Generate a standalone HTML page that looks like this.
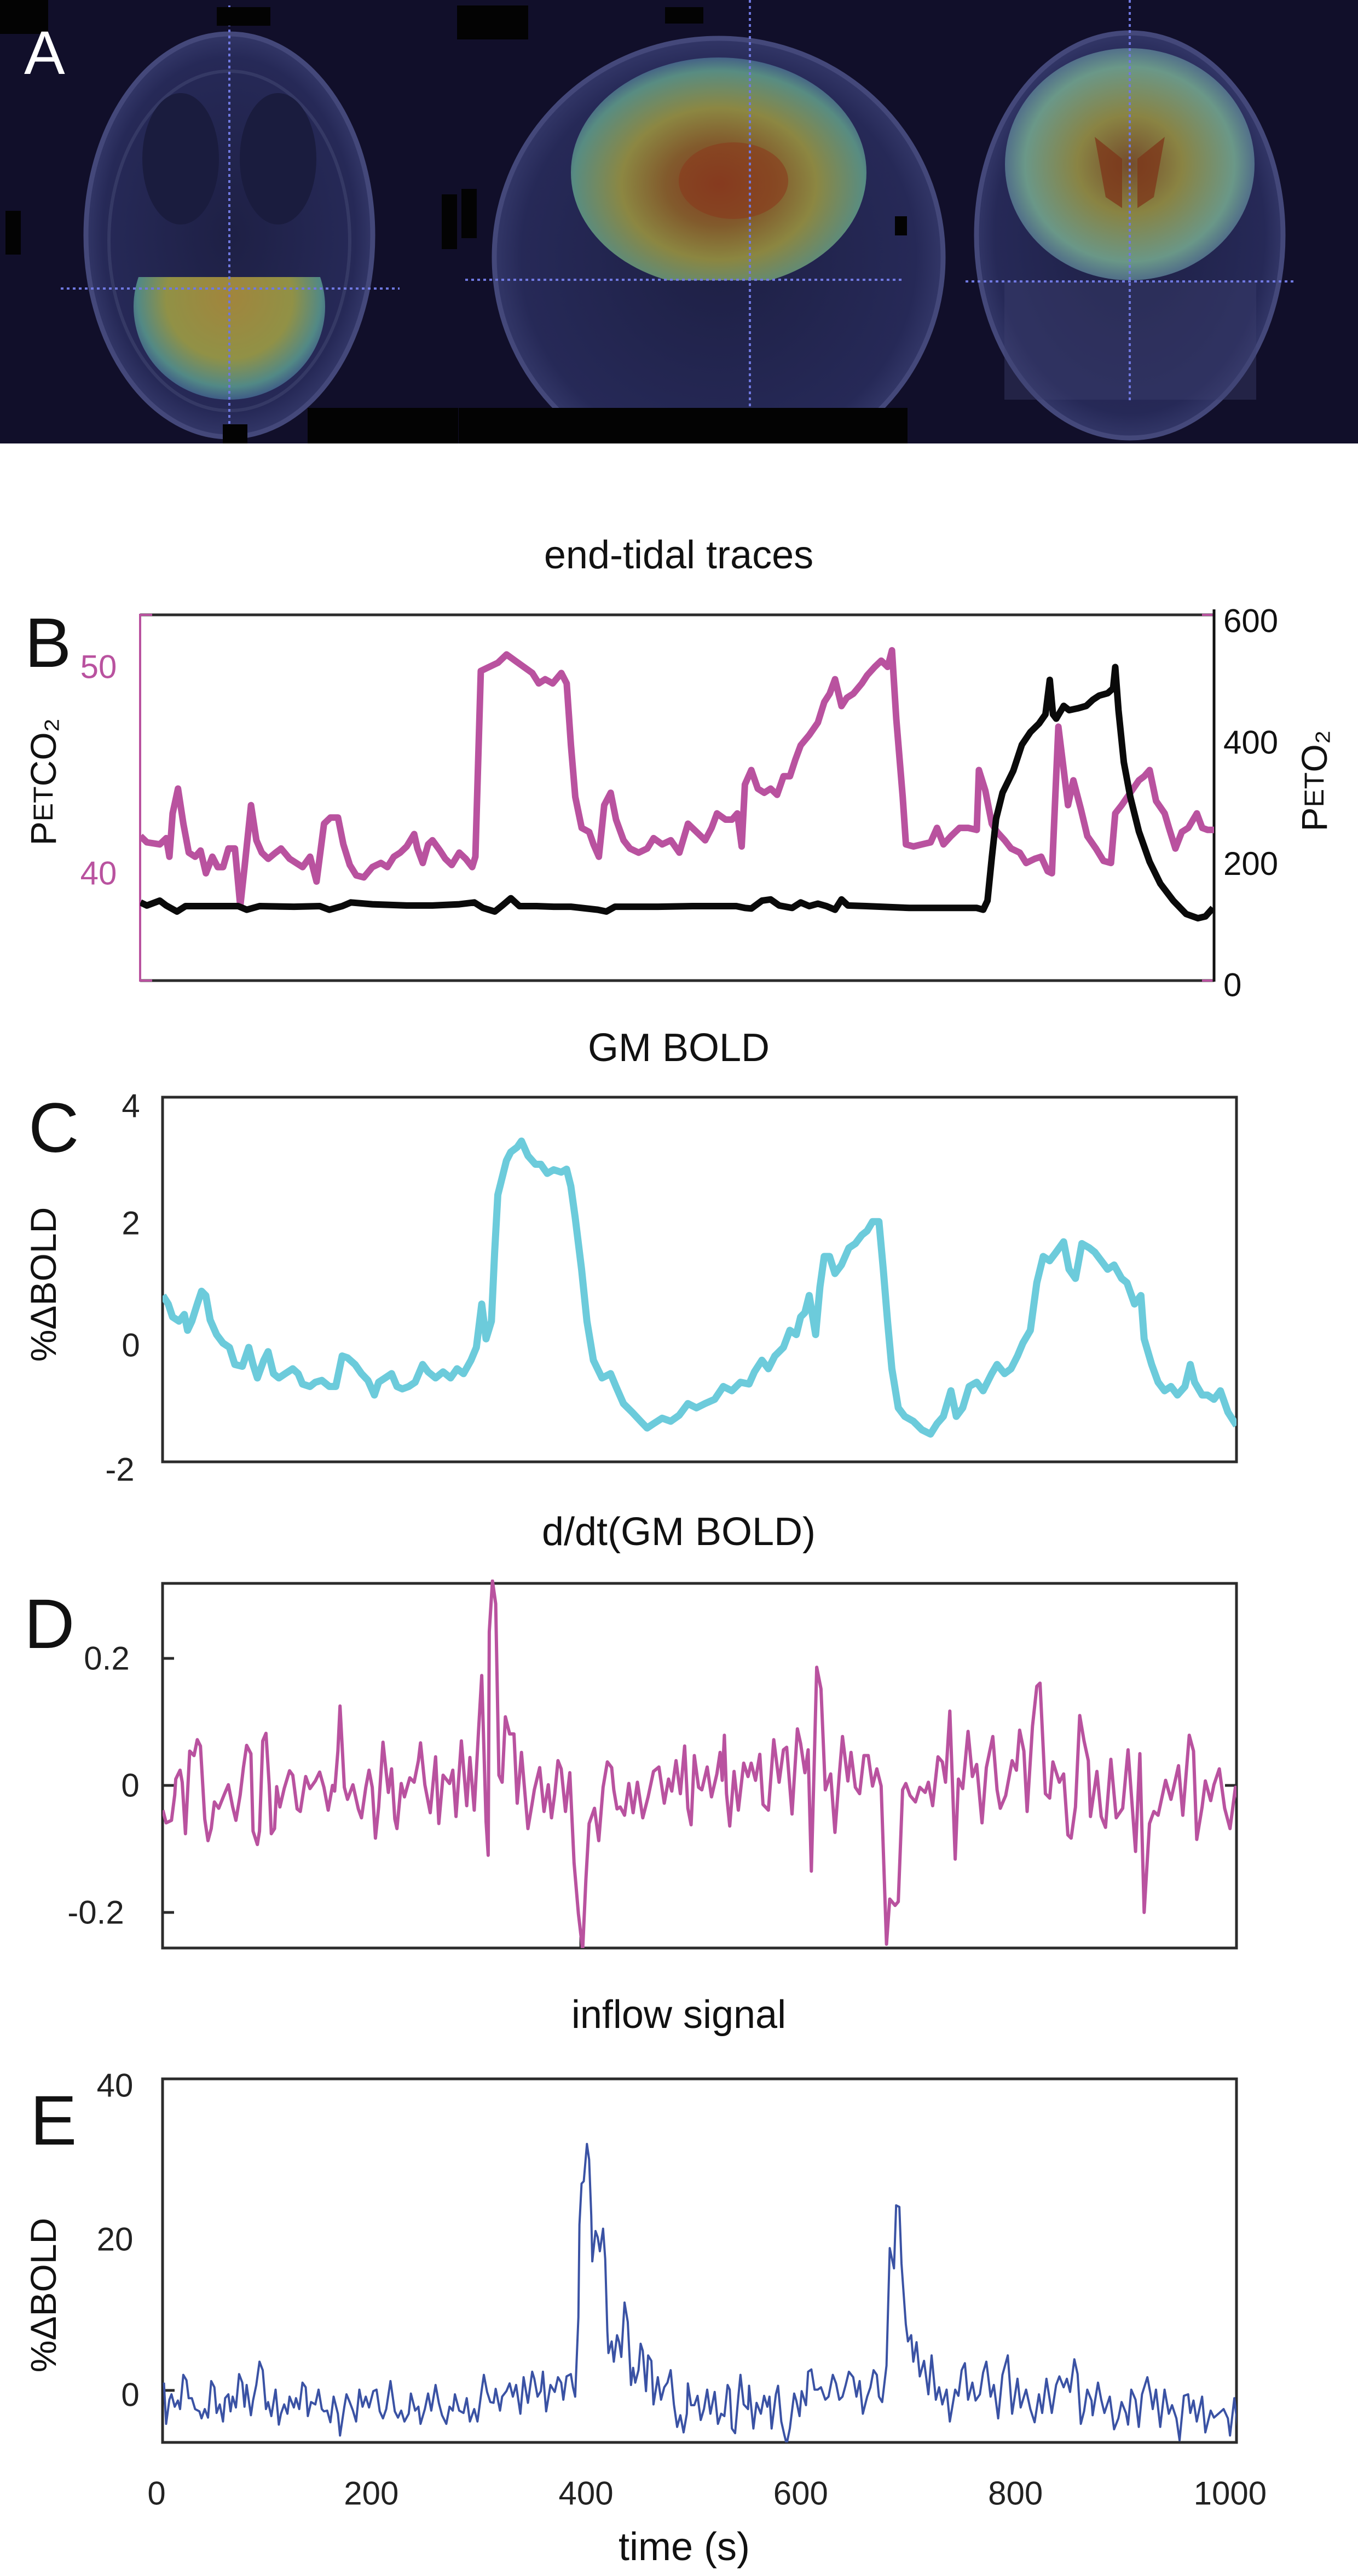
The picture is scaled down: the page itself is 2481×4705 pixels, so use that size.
<!DOCTYPE html>
<html><head><meta charset="utf-8">
<style>
html,body{margin:0;padding:0;background:#fff;}
svg{display:block;}
text{font-family:"Liberation Sans",sans-serif;}
</style></head>
<body>
<svg id="fig" xmlns="http://www.w3.org/2000/svg" width="2481" height="4705" viewBox="0 0 2481 4705">
<defs>
 <radialGradient id="gYel" cx="50%" cy="45%" r="60%">
  <stop offset="0" stop-color="#b8963a"/><stop offset="0.55" stop-color="#a4a444"/><stop offset="0.8" stop-color="#5a9a8e"/><stop offset="1" stop-color="#34408e"/>
 </radialGradient>
 <radialGradient id="gSag" cx="50%" cy="55%" r="60%">
  <stop offset="0" stop-color="#8e3e1e"/><stop offset="0.3" stop-color="#8f6228"/><stop offset="0.55" stop-color="#9a9440"/><stop offset="0.82" stop-color="#5f9a88"/><stop offset="1" stop-color="#343f90"/>
 </radialGradient>
 <radialGradient id="gCor" cx="50%" cy="50%" r="60%">
  <stop offset="0" stop-color="#7e5028"/><stop offset="0.35" stop-color="#958e42"/><stop offset="0.7" stop-color="#72a48e"/><stop offset="1" stop-color="#343f90"/>
 </radialGradient>
 <radialGradient id="gHead" cx="50%" cy="50%" r="55%">
  <stop offset="0" stop-color="#1e2045"/><stop offset="0.8" stop-color="#262957"/><stop offset="1" stop-color="#3d4275"/>
 </radialGradient>
 <clipPath id="clipB"><rect x="256" y="1123" width="1962" height="668"/></clipPath>
 <clipPath id="clipC"><rect x="297" y="2004" width="1962" height="666"/></clipPath>
 <clipPath id="clipD"><rect x="297" y="2885" width="1962" height="673"/></clipPath>
 <clipPath id="clipE"><rect x="297" y="3797" width="1962" height="664"/></clipPath>
 <clipPath id="cutAx"><rect x="0" y="506" width="900" height="300"/></clipPath>
 <clipPath id="cutSag"><rect x="840" y="0" width="900" height="512"/></clipPath>
 <clipPath id="cutCor"><rect x="1700" y="0" width="700" height="514"/></clipPath>
 <clipPath id="clipA"><rect x="0" y="0" width="2481" height="810"/></clipPath>
</defs>

<!-- Panel A: MRI images -->
<g clip-path="url(#clipA)">
 <rect x="0" y="0" width="2481" height="810" fill="#110f2a"/>
 <g>
  <ellipse cx="419" cy="430" rx="262" ry="368" fill="url(#gHead)" stroke="#44487a" stroke-width="9"/>
  <ellipse cx="419" cy="440" rx="220" ry="310" fill="none" stroke="#353965" stroke-width="6"/>
  <ellipse cx="330" cy="290" rx="70" ry="120" fill="#1a1c3e"/>
  <ellipse cx="508" cy="290" rx="70" ry="120" fill="#1a1c3e"/>
  <g clip-path="url(#cutAx)"><ellipse cx="419" cy="560" rx="175" ry="170" fill="url(#gYel)" opacity="0.85"/></g>
  <line x1="111" y1="527" x2="730" y2="527" stroke="#6f78e0" stroke-width="4" stroke-dasharray="5,6"/>
  <line x1="419" y1="10" x2="419" y2="810" stroke="#6f78e0" stroke-width="4" stroke-dasharray="5,6"/>
 </g>
 <g>
  <ellipse cx="1313" cy="470" rx="410" ry="400" fill="url(#gHead)" stroke="#44487a" stroke-width="9"/>
  <g clip-path="url(#cutSag)"><ellipse cx="1313" cy="315" rx="270" ry="210" fill="url(#gSag)" opacity="0.88"/></g>
  <ellipse cx="1340" cy="330" rx="100" ry="70" fill="#8a3a1c" opacity="0.6"/>
  <line x1="850" y1="511" x2="1653" y2="511" stroke="#6f78e0" stroke-width="4" stroke-dasharray="5,6"/>
  <line x1="1370" y1="0" x2="1370" y2="745" stroke="#6f78e0" stroke-width="4" stroke-dasharray="5,6"/>
 </g>
 <g>
  <ellipse cx="2064" cy="430" rx="280" ry="370" fill="url(#gHead)" stroke="#44487a" stroke-width="9"/>
  <g clip-path="url(#cutCor)"><ellipse cx="2064" cy="300" rx="228" ry="212" fill="url(#gCor)" opacity="0.9"/></g>
  <path d="M2000 250 L2050 290 L2050 380 L2020 360 Z M2128 250 L2078 290 L2078 380 L2108 360 Z" fill="#7e361a" opacity="0.75"/>
  <rect x="1835" y="514" width="460" height="216" fill="#3e4270" opacity="0.4"/>
  <line x1="1764" y1="514" x2="2368" y2="514" stroke="#6f78e0" stroke-width="4" stroke-dasharray="5,6"/>
  <line x1="2064" y1="0" x2="2064" y2="735" stroke="#6f78e0" stroke-width="4" stroke-dasharray="5,6"/>
 </g>
 <g fill="#030303">
  <rect x="0" y="0" width="88" height="62"/><rect x="396" y="13" width="98" height="34"/>
  <rect x="835" y="10" width="130" height="62"/><rect x="1215" y="13" width="70" height="30"/>
  <rect x="10" y="385" width="28" height="80"/><rect x="807" y="355" width="28" height="100"/><rect x="843" y="345" width="28" height="90"/><rect x="1635" y="395" width="22" height="35"/>
  <rect x="407" y="775" width="45" height="35"/><rect x="562" y="745" width="275" height="65"/><rect x="838" y="745" width="820" height="65"/>
 </g>
 <text x="44" y="135" font-size="112" fill="#ffffff">A</text>
</g>

<!-- Titles and labels -->
<g fill="#111">
 <text x="1240" y="1014" font-size="72" text-anchor="middle" dominant-baseline="central">end-tidal traces</text>
 <text x="1240" y="1914" font-size="72" text-anchor="middle" dominant-baseline="central">GM BOLD</text>
 <text x="1240" y="2798" font-size="72" text-anchor="middle" dominant-baseline="central">d/dt(GM BOLD)</text>
 <text x="1240" y="3680" font-size="72" text-anchor="middle" dominant-baseline="central">inflow signal</text>
 <text x="1250" y="4652" font-size="72" text-anchor="middle" dominant-baseline="central">time (s)</text>
 <text x="45" y="1218" font-size="128">B</text>
 <text x="52" y="2104" font-size="128">C</text>
 <text x="44" y="3010" font-size="128">D</text>
 <text x="55" y="3917" font-size="128">E</text>
 <text transform="translate(79,1428) rotate(-90)" font-size="66" text-anchor="middle" dominant-baseline="central">P<tspan font-size="50">ET</tspan>CO₂</text>
 <text transform="translate(2401,1426) rotate(-90)" font-size="66" text-anchor="middle" dominant-baseline="central">P<tspan font-size="50">ET</tspan>O₂</text>
 <text transform="translate(79,2346) rotate(-90)" font-size="66" text-anchor="middle" dominant-baseline="central">%ΔBOLD</text>
 <text transform="translate(79,4192) rotate(-90)" font-size="66" text-anchor="middle" dominant-baseline="central">%ΔBOLD</text>
</g>
<g id="plots"></g>
</svg>
<script>
// ---- data ----
const timeTicks = [0, 200, 400, 600, 800, 1000];
const co2Ticks = [40, 50];
const o2Ticks = [0, 200, 400, 600];
const bTicks = [-2, 0, 2, 4];
const dTicks = [-0.2, 0, 0.2];
const dTickLabels = ["-0.2", "0", "0.2"];
const eTicks = [0, 20, 40];
const co2Series = [[11,41.8],[17,41.5],[29,41.4],[35,41.7],[38,40.8],[41,42.9],[46,44.1],[51,42.4],[56,41.0],[62,40.8],[67,41.1],[72,40.0],[78,40.8],[83,40.3],[88,40.3],[93,41.2],[99,41.2],[104,38.4],[108,40.3],[114,43.3],[119,41.6],[124,41.0],[130,40.7],[137,41.0],[142,41.2],[150,40.7],[162,40.3],[169,40.8],[175,39.6],[182,42.4],[188,42.7],[195,42.7],[200,41.4],[206,40.4],[212,39.9],[219,39.8],[227,40.3],[235,40.5],[241,40.3],[247,40.8],[253,41.0],[259,41.3],[266,41.9],[269,41.2],[274,40.5],[279,41.4],[283,41.6],[290,41.1],[295,40.7],[301,40.4],[308,41.0],[314,40.7],[320,40.3],[323,40.8],[328,49.8],[336,50.0],[344,50.2],[352,50.6],[360,50.3],[368,50.0],[376,49.7],[382,49.2],[388,49.4],[395,49.2],[403,49.7],[408,49.2],[412,46.2],[416,43.7],[422,42.2],[429,42.0],[433,41.4],[438,40.8],[443,43.3],[449,43.9],[454,42.6],[461,41.6],[467,41.2],[475,41.0],[483,41.2],[489,41.7],[497,41.4],[505,41.6],[513,41.0],[521,42.4],[529,42.0],[537,41.6],[543,42.2],[548,42.9],[556,42.6],[562,42.6],[567,42.9],[571,41.3],[574,44.3],[580,45.0],[586,44.1],[592,43.9],[598,44.1],[604,43.8],[610,44.7],[616,44.7],[621,45.5],[626,46.2],[634,46.7],[642,47.3],[648,48.3],[653,48.7],[658,49.4],[664,48.1],[669,48.5],[675,48.7],[683,49.2],[688,49.6],[695,50.0],[701,50.3],[707,50.0],[711,50.8],[715,47.5],[721,43.7],[724,41.4],[731,41.3],[739,41.4],[747,41.5],[753,42.2],[759,41.4],[766,41.8],[774,42.2],[782,42.2],[790,42.1],[792,45.0],[798,44.0],[804,42.4],[809,42.0],[816,41.6],[822,41.2],[830,41.0],[836,40.5],[844,40.7],[850,40.8],[856,40.1],[860,40.0],[866,47.1],[871,45.0],[875,43.3],[880,44.5],[887,43.1],[893,41.8],[901,41.2],[908,40.6],[915,40.5],[919,42.9],[925,43.3],[933,43.9],[941,44.5],[946,44.7],[951,45.0],[957,43.5],[965,42.9],[969,42.2],[975,41.2],[981,42.0],[987,42.2],[995,42.9],[1000,42.2],[1005,42.1],[1011,42.1]];
const o2Series = [[11,136],[17,131],[29,139],[35,131],[45,121],[53,130],[70,130],[102,130],[110,124],[122,130],[154,129],[178,130],[187,124],[199,130],[207,136],[227,133],[259,131],[283,131],[308,133],[322,136],[330,127],[341,121],[348,131],[356,143],[364,130],[380,130],[396,129],[412,129],[437,124],[445,121],[453,129],[493,129],[525,130],[566,130],[574,127],[580,126],[590,139],[598,141],[606,131],[618,127],[626,136],[634,130],[642,134],[650,130],[658,124],[664,141],[670,131],[687,130],[727,127],[767,127],[790,127],[796,124],[800,139],[804,210],[808,274],[814,317],[824,353],[832,396],[840,417],[848,431],[854,446],[858,503],[861,446],[864,439],[871,460],[876,453],[884,456],[892,460],[898,470],[904,477],[912,481],[917,489],[919,524],[922,453],[927,367],[933,310],[941,253],[951,203],[961,167],[973,139],[985,117],[996,110],[1003,113],[1010,127]];
const gmBoldSeries = [[11,0.85],[16,0.71],[20,0.50],[26,0.43],[31,0.54],[34,0.28],[38,0.43],[43,0.71],[47,0.92],[51,0.85],[55,0.45],[61,0.21],[67,0.07],[73,0],[78,-0.28],[85,-0.31],[91,0],[95,-0.28],[99,-0.50],[105,-0.21],[109,-0.07],[114,-0.43],[119,-0.50],[125,-0.43],[132,-0.35],[137,-0.43],[141,-0.60],[148,-0.64],[153,-0.57],[159,-0.54],[166,-0.64],[172,-0.64],[178,-0.14],[183,-0.17],[190,-0.28],[196,-0.43],[202,-0.54],[208,-0.78],[212,-0.57],[218,-0.50],[224,-0.43],[229,-0.64],[234,-0.68],[240,-0.64],[246,-0.57],[253,-0.28],[258,-0.40],[265,-0.50],[272,-0.40],[279,-0.50],[285,-0.35],[291,-0.43],[298,-0.21],[303,0],[308,0.71],[312,0.14],[317,0.43],[320,1.56],[323,2.50],[331,3.06],[335,3.20],[341,3.28],[345,3.38],[351,3.14],[358,3.00],[363,3.00],[369,2.85],[375,2.91],[382,2.87],[387,2.92],[391,2.64],[395,2.13],[401,1.28],[406,0.43],[412,-0.21],[420,-0.50],[428,-0.43],[433,-0.64],[440,-0.92],[448,-1.06],[456,-1.21],[462,-1.32],[468,-1.25],[476,-1.16],[484,-1.21],[492,-1.11],[500,-0.92],[508,-0.99],[516,-0.92],[525,-0.85],[533,-0.64],[541,-0.71],[549,-0.57],[557,-0.60],[562,-0.40],[569,-0.21],[575,-0.35],[581,-0.14],[589,0],[595,0.28],[601,0.21],[605,0.50],[609,0.57],[613,0.85],[619,0.21],[623,0.99],[627,1.49],[632,1.49],[637,1.21],[643,1.35],[650,1.63],[656,1.70],[662,1.84],[667,1.91],[672,2.06],[678,2.06],[682,1.28],[686,0.43],[690,-0.35],[696,-0.99],[702,-1.13],[710,-1.21],[718,-1.35],[726,-1.42],[732,-1.25],[738,-1.13],[745,-0.71],[750,-1.13],[756,-0.99],[762,-0.64],[769,-0.57],[775,-0.71],[783,-0.43],[788,-0.28],[795,-0.43],[801,-0.35],[807,-0.14],[812,0.07],[819,0.28],[825,1.06],[831,1.49],[837,1.42],[843,1.56],[850,1.73],[855,1.28],[861,1.13],[867,1.70],[874,1.63],[879,1.56],[885,1.42],[891,1.28],[897,1.35],[904,1.13],[909,1.06],[916,0.71],[922,0.85],[925,0.14],[932,-0.28],[938,-0.57],[944,-0.71],[950,-0.64],[956,-0.78],[963,-0.64],[968,-0.28],[972,-0.57],[979,-0.78],[984,-0.78],[990,-0.85],[996,-0.71],[1003,-1.06],[1011,-1.28]];
const dBoldSeries = [[11,-0.039],[14,-0.059],[19,-0.055],[22,-0.015],[23,0.010],[27,0.024],[29,0.005],[32,-0.076],[36,0.054],[40,0.047],[43,0.072],[46,0.062],[50,-0.053],[53,-0.087],[56,-0.068],[59,-0.026],[63,-0.036],[68,-0.015],[72,0.001],[76,-0.034],[79,-0.055],[83,-0.015],[86,0.028],[89,0.063],[93,0.050],[95,-0.072],[99,-0.093],[101,-0.072],[104,0.070],[107,0.082],[110,0.001],[112,-0.076],[115,-0.068],[117,-0.002],[120,-0.034],[124,-0.005],[129,0.023],[132,0.016],[136,-0.037],[139,-0.041],[144,0.014],[148,-0.005],[153,0.007],[157,0.021],[161,-0.003],[165,-0.039],[169,0],[171,-0.009],[174,0.054],[176,0.125],[180,-0.003],[183,-0.022],[188,0.001],[193,-0.037],[196,-0.051],[200,-0.003],[203,0.024],[206,-0.003],[209,-0.083],[212,-0.034],[216,0.068],[219,0.020],[221,-0.011],[224,0.026],[227,-0.053],[229,-0.068],[233,0.003],[236,-0.018],[241,0.012],[245,0.005],[249,0.039],[251,0.067],[255,0.001],[260,-0.043],[265,0.045],[268,-0.060],[272,0.016],[278,0.003],[281,0.024],[284,-0.049],[289,0.070],[294,-0.032],[297,0.044],[301,-0.039],[305,0.085],[308,0.173],[312,-0.057],[314,-0.110],[315,0.242],[318,0.322],[321,0.286],[324,0.016],[327,0.005],[330,0.108],[334,0.081],[338,0.081],[341,-0.028],[345,0.052],[351,-0.068],[355,-0.028],[357,-0.007],[362,0.028],[366,-0.041],[370,0.001],[373,-0.051],[376,-0.013],[379,0.039],[382,0.026],[386,-0.041],[390,0.020],[394,-0.122],[398,-0.202],[402,-0.259],[405,-0.148],[408,-0.060],[413,-0.036],[417,-0.087],[421,-0.003],[425,0.037],[429,0.028],[431,-0.007],[434,-0.037],[437,-0.034],[441,-0.047],[445,0.003],[449,-0.043],[453,0.005],[458,-0.051],[463,-0.018],[468,0.022],[473,0.029],[478,-0.028],[482,0.010],[485,-0.009],[489,0.039],[493,-0.013],[497,0.062],[500,-0.036],[503,-0.062],[506,0.047],[510,-0.003],[513,-0.007],[518,0.029],[522,-0.018],[527,0.018],[530,0.052],[532,0.008],[534,0.079],[536,-0.013],[539,-0.064],[543,0.022],[547,-0.039],[552,0.035],[556,0.014],[559,0.035],[563,0.008],[567,0.049],[570,-0.030],[575,-0.039],[580,0.072],[585,0.005],[589,0.056],[592,0.060],[597,-0.045],[602,0.089],[605,0.066],[609,0.020],[612,0.056],[615,-0.135],[620,0.186],[624,0.152],[628,-0.007],[633,0.018],[637,-0.074],[641,0.016],[644,0.077],[649,0.007],[652,0.052],[656,-0.003],[660,-0.013],[664,0.047],[668,0.047],[672,-0.001],[676,0.026],[680,-0.001],[685,-0.250],[688,-0.179],[693,-0.189],[696,-0.183],[700,-0.007],[703,0.003],[707,-0.016],[712,-0.026],[716,-0.003],[721,-0.011],[724,0.005],[728,-0.032],[733,0.045],[737,0.037],[740,0.005],[744,0.117],[749,-0.116],[752,0.010],[756,-0.005],[761,0.085],[765,0.014],[769,0.033],[774,-0.059],[778,0.028],[784,0.077],[788,-0.007],[791,-0.036],[796,-0.016],[802,0.039],[806,0.024],[809,0.087],[813,0.054],[816,-0.041],[821,0.093],[825,0.156],[828,0.161],[833,-0.013],[837,-0.020],[840,0.037],[846,0.005],[850,0.018],[854,-0.078],[857,-0.083],[861,-0.034],[865,0.110],[869,0.070],[873,0.039],[875,-0.049],[881,0.022],[885,-0.049],[889,-0.066],[894,0.041],[899,-0.051],[905,-0.036],[910,0.056],[917,-0.104],[921,0.050],[925,-0.200],[930,-0.060],[934,-0.041],[938,-0.047],[945,0.008],[950,-0.022],[957,0.031],[961,-0.047],[967,0.079],[971,0.054],[974,-0.085],[979,-0.034],[982,0.007],[987,-0.024],[990,0.001],[995,0.026],[1000,-0.036],[1005,-0.068],[1010,-0.003],[1013,-0.024]];
const inflowSeries = [[12,1.0],[14,-4.3],[17,-1.2],[19,-0.5],[22,-2.1],[25,-1.3],[27,-2.4],[30,2.0],[33,1.3],[35,-1.0],[38,-1.0],[41,-2.4],[45,-2.7],[47,-3.6],[50,-2.4],[53,-3.5],[56,1.2],[59,0.4],[61,-2.9],[64,-1.8],[67,-4.0],[69,-1.0],[72,-0.5],[74,-2.7],[76,-0.8],[79,-2.2],[82,2.1],[85,1.0],[87,-2.1],[89,0.7],[93,-3.2],[95,-1.3],[98,0.7],[101,3.7],[104,2.6],[107,-2.4],[109,-1.5],[112,-3.3],[116,0.1],[119,-4.4],[121,-3.0],[124,-1.8],[127,-3.0],[129,-0.8],[133,-2.2],[135,-1.0],[138,-2.4],[141,1.0],[144,0.4],[146,-3.3],[149,-1.5],[153,-1.8],[156,0.1],[159,-2.4],[161,-2.7],[164,-2.6],[167,-4.1],[170,-0.8],[174,-3.0],[176,-5.8],[180,-2.1],[182,-0.5],[185,-1.5],[188,-2.6],[191,-4.0],[194,0.1],[197,-2.1],[200,-0.8],[203,-2.2],[207,-0.1],[210,0.1],[213,-2.7],[216,-3.6],[219,-2.4],[223,1.2],[227,-2.7],[230,-3.5],[233,-2.6],[236,-4.0],[240,-3.0],[242,-0.4],[246,-2.6],[249,-2.1],[251,-4.3],[255,-2.4],[258,-0.4],[261,-2.6],[265,0.7],[268,-1.6],[271,-3.2],[275,-4.3],[278,-2.1],[281,-2.6],[283,-0.5],[287,-2.6],[291,-2.9],[294,-1.0],[297,-4.0],[301,-2.4],[304,-4.0],[308,0.1],[310,2.0],[313,-0.2],[316,-1.5],[319,-1.6],[321,0.2],[325,-2.6],[327,-0.8],[331,-0.1],[334,0.9],[337,-0.8],[340,0.7],[344,-3.0],[347,1.7],[351,-1.6],[355,2.4],[357,1.5],[360,-0.8],[363,-0.1],[365,2.4],[368,-2.7],[372,0.7],[376,-0.2],[379,1.7],[382,1.0],[384,-1.2],[387,1.8],[391,2.1],[393,0.4],[395,-0.8],[398,9.4],[399,21.3],[401,26.6],[403,26.9],[406,31.7],[408,29.7],[410,22.5],[411,16.6],[414,20.5],[416,19.7],[418,17.9],[421,20.8],[423,16.9],[425,7.6],[426,4.8],[429,6.3],[431,3.7],[434,7.1],[436,6.2],[438,4.3],[441,11.3],[444,8.8],[447,0.7],[449,2.9],[451,1.0],[454,2.6],[456,6.0],[458,5.1],[461,-0.1],[463,4.5],[466,3.8],[468,-1.8],[472,1.7],[475,-1.2],[478,0.4],[481,1.0],[484,2.6],[487,-1.8],[490,-4.7],[493,-3.2],[496,-5.4],[499,-3.0],[500,0.9],[503,-1.9],[506,-1.9],[509,-0.7],[512,-3.8],[515,-2.4],[518,0.1],[521,-3.0],[525,-0.2],[528,-4.3],[531,-3.0],[534,-3.3],[537,0.7],[539,0.1],[541,-4.9],[544,-5.5],[547,-0.8],[549,2.0],[552,-1.8],[556,-2.4],[557,0.6],[561,-4.9],[564,-1.6],[568,-3.0],[571,-0.7],[574,-2.1],[576,-0.8],[578,-4.9],[582,-0.5],[584,0.6],[587,-4.0],[590,-5.8],[592,-6.9],[595,-4.9],[599,-0.4],[601,-1.3],[604,-3.3],[606,-0.1],[610,-1.9],[612,2.4],[615,2.7],[618,0.1],[621,0.1],[624,0.4],[628,-1.2],[631,-0.8],[635,2.0],[638,0.9],[641,-1.2],[644,-0.8],[647,0.7],[650,2.4],[654,1.7],[657,-0.8],[660,1.2],[663,-3.0],[667,-0.8],[670,0.4],[673,2.6],[676,2.0],[678,-0.8],[681,-1.5],[685,3.2],[688,18.3],[692,15.7],[694,23.8],[697,23.6],[699,16.3],[703,8.5],[705,6.3],[708,7.1],[710,3.7],[713,6.2],[716,1.8],[720,3.8],[724,-0.5],[727,4.5],[731,-1.2],[734,0.4],[737,-1.8],[741,0.1],[744,-4.0],[749,0.1],[752,-0.7],[755,2.6],[758,3.5],[761,-1.2],[765,1.0],[768,-1.3],[772,-0.5],[775,2.3],[778,3.7],[782,-0.8],[785,0.7],[789,-3.6],[793,2.0],[798,4.5],[802,-3.0],[807,1.5],[810,-2.2],[815,0.1],[819,-2.4],[823,-4.1],[827,-0.5],[830,-2.9],[834,1.5],[839,-2.9],[843,0.7],[846,1.8],[850,0.4],[853,1.5],[856,-0.2],[860,4.0],[863,2.1],[866,-4.3],[869,-2.7],[872,0.1],[876,-1.3],[877,-3.2],[882,1.0],[885,-1.2],[888,-2.9],[893,-0.8],[897,-5.0],[901,-3.6],[904,-1.5],[908,-2.9],[910,-4.4],[913,0.1],[917,-1.2],[920,-4.7],[923,-0.5],[928,1.7],[931,-0.5],[933,-2.4],[936,0.1],[940,-4.7],[944,0.1],[948,-3.0],[951,-1.9],[955,-3.6],[958,-6.4],[962,-0.7],[966,-0.5],[968,-2.9],[971,-1.3],[974,-4.0],[979,-0.8],[982,-5.4],[987,-2.6],[990,-3.5],[995,-2.9],[999,-2.4],[1003,-3.6],[1005,-5.8],[1009,-1.0],[1012,-4.6]];

// ---- axis functions ----
const T0 = 10.7, PXS = 1.9614;
const xB = t => 256 + (t - T0) * PXS;
const xT = t => 297 + (t - T0) * PXS;
const yCO2 = v => 1595 - (v - 40) * 37.7;
const yO2 = v => 1799 - v * 1.108;
const yC = v => 2461 - v * 111.5;
const yD = v => 3261 - v * 1160;
const yE = v => 4366 - v * 14.2;

const NS = 'http://www.w3.org/2000/svg';
const root = document.getElementById('plots');
function mk(tag, attrs, parent) {
  const el = document.createElementNS(NS, tag);
  for (const k in attrs) el.setAttribute(k, attrs[k]);
  (parent || root).appendChild(el);
  return el;
}
function pathOf(series, fx, fy) {
  return series.map((p, i) => (i ? 'L' : 'M') + fx(p[0]).toFixed(1) + ' ' + fy(p[1]).toFixed(1)).join(' ');
}
function label(txt, x, y, size, color, anchor, parent) {
  const t = mk('text', {x: x, y: y, 'font-size': size, fill: color, 'text-anchor': anchor || 'middle', 'dominant-baseline': 'central'}, parent);
  t.textContent = txt;
  return t;
}

// ---- Panel B ----
const gB = mk('g', {});


const bFrame = mk('path', {d: 'M256 1123 H2218 M256 1791 H2218', stroke: '#2b2b2b', 'stroke-width': 5, fill: 'none'}, gB);


const bLeft = mk('path', {d: 'M256 1121 V1793 M256 1123 H278 M256 1791 H278 M2196 1123 H2218 M2196 1791 H2218', stroke: '#b9529f', 'stroke-width': 4, fill: 'none'}, gB);


const bRight = mk('line', {x1: 2218, y1: 1113, x2: 2218, y2: 1793, stroke: '#111', 'stroke-width': 5}, gB);


co2Ticks.forEach(v => {
  const t = label(String(v), 180, yCO2(v), 60, '#b9529f', 'middle', gB);
  
  
});
o2Ticks.forEach(v => {
  const t = label(String(v), 2235, yO2(v), 60, '#111', 'start', gB);
  
  
});
const co2Line = mk('path', {d: pathOf(co2Series, xB, yCO2), stroke: '#b9529f', 'stroke-width': 12, fill: 'none', 'stroke-linejoin': 'round', 'clip-path': 'url(#clipB)'}, gB);


const o2Line = mk('path', {d: pathOf(o2Series, xB, yO2), stroke: '#0a0a0a', 'stroke-width': 12, fill: 'none', 'stroke-linejoin': 'round', 'clip-path': 'url(#clipB)'}, gB);



// ---- Panel C ----
const gC = mk('g', {});


const cFrame = mk('rect', {x: 297, y: 2004, width: 1962, height: 666, fill: 'none', stroke: '#2b2b2b', 'stroke-width': 5}, gC);


bTicks.forEach(v => {
  const t = label(String(v), v < 0 ? 219 : 239, v === 4 ? 2020 : (v === -2 ? 2684 : yC(v) - 4), 60, '#222', 'middle', gC);
  
  
});
const cLine = mk('path', {d: pathOf(gmBoldSeries, xT, yC), stroke: '#6ccbdb', 'stroke-width': 13, fill: 'none', 'stroke-linejoin': 'round', 'clip-path': 'url(#clipC)'}, gC);



// ---- Panel D ----
const gD = mk('g', {});


const dFrame = mk('rect', {x: 297, y: 2892, width: 1962, height: 666, fill: 'none', stroke: '#2b2b2b', 'stroke-width': 5}, gD);


dTicks.forEach((v, i) => {
  const tk = mk('line', {x1: 297, x2: 318, y1: yD(v), y2: yD(v), stroke: '#2b2b2b', 'stroke-width': 5}, gD);
  
  
  const t = label(dTickLabels[i], v === 0 ? 238 : (v > 0 ? 195 : 175), yD(v), 60, '#222', 'middle', gD);
  
  
});
const dRightTick = mk('line', {x1: 2238, x2: 2259, y1: yD(0), y2: yD(0), stroke: '#2b2b2b', 'stroke-width': 5}, gD);


const dBotTick = mk('line', {x1: xT(400), x2: xT(400), y1: 3538, y2: 3558, stroke: '#2b2b2b', 'stroke-width': 4}, gD);


const dLine = mk('path', {d: pathOf(dBoldSeries, xT, yD), stroke: '#b9529f', 'stroke-width': 6, fill: 'none', 'stroke-linejoin': 'round', 'clip-path': 'url(#clipD)'}, gD);



// ---- Panel E ----
const gE = mk('g', {});


const eFrame = mk('rect', {x: 297, y: 3797, width: 1962, height: 664, fill: 'none', stroke: '#2b2b2b', 'stroke-width': 5}, gE);


const eTick = mk('line', {x1: 297, x2: 319, y1: yE(0), y2: yE(0), stroke: '#2b2b2b', 'stroke-width': 5}, gE);


eTicks.forEach(v => {
  const t = label(String(v), v === 0 ? 238 : 210, v === 40 ? 3809 : yE(v) + 8, 60, '#222', 'middle', gE);
  
  
});
timeTicks.forEach(v => {
  const t = label(String(v), xT(v) + 10, 4554, 60, '#222', 'middle', gE);
  
  
});
const eLine = mk('path', {d: pathOf(inflowSeries, xT, yE), stroke: '#3a52a4', 'stroke-width': 4, fill: 'none', 'stroke-linejoin': 'round', 'clip-path': 'url(#clipE)'}, gE);


</script>
</body></html>
